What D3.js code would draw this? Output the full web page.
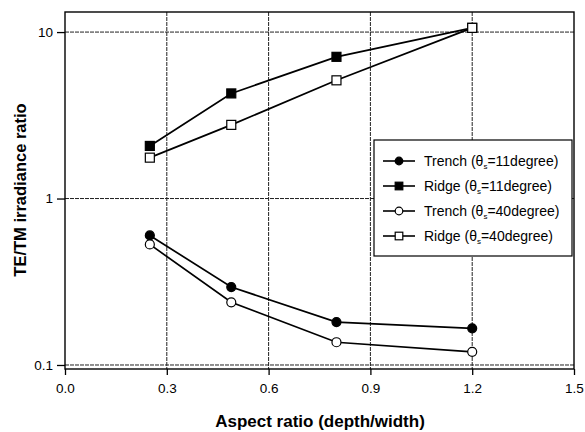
<!DOCTYPE html>
<html>
<head>
<meta charset="utf-8">
<script src="https://cdn.jsdelivr.net/npm/d3@7"></script>
<style>
  body { margin: 0; background: #fff; }
  text { font-family: Arial, "Liberation Sans", sans-serif; }
</style>
</head>
<body>
<script>
// data
let aspect = [0.25, 0.49, 0.8, 1.2]
let trench11 = [0.60, 0.294, 0.181, 0.166]
let ridge11 = [2.07, 4.28, 7.1, 10.6]
let trench40 = [0.53, 0.238, 0.137, 0.12]
let ridge40 = [1.76, 2.77, 5.13, 10.6]
let xTicks = [0, 0.3, 0.6, 0.9, 1.2, 1.5]
let yTicks = [0.1, 1, 10]

let series = [
    { name: "Trench", angle: "11", values: trench11, shape: "circle", fill: "#000" },
    { name: "Ridge", angle: "11", values: ridge11, shape: "square", fill: "#000" },
    { name: "Trench", angle: "40", values: trench40, shape: "circle", fill: "#fff" },
    { name: "Ridge", angle: "40", values: ridge40, shape: "square", fill: "#fff" }
]

let W = 585, H = 432
let pLeft = 65, pRight = 574, pTop = 12, pBottom = 369

let svg = d3.select("body").append("svg")
    .attr("width", W)
    .attr("height", H)

let x = d3.scaleLinear().domain([0, 1.5]).range([pLeft, pRight])
let y = d3.scaleLog().domain([0.0946, 13.2]).range([pBottom, pTop])

// grid
svg.append("g").selectAll("line")
    .data(xTicks.filter(d => d > 0 && d < 1.5))
    .join("line")
    .attr("x1", d => x(d)).attr("x2", d => x(d))
    .attr("y1", pTop).attr("y2", pBottom)
    .attr("stroke", "#222")
    .attr("stroke-width", 1)
    .attr("stroke-dasharray", "4,1")
svg.append("g").selectAll("line")
    .data(yTicks)
    .join("line")
    .attr("x1", pLeft).attr("x2", pRight)
    .attr("y1", d => y(d)).attr("y2", d => y(d))
    .attr("stroke", "#222")
    .attr("stroke-width", 1)
    .attr("stroke-dasharray", "4,1")

// frame
svg.append("rect")
    .attr("x", pLeft).attr("y", pTop)
    .attr("width", pRight - pLeft).attr("height", pBottom - pTop)
    .attr("fill", "none")
    .attr("stroke", "#000")
    .attr("stroke-width", 1.4)

// axes
let xAxis = svg.append("g")
    .attr("transform", `translate(0,${pBottom})`)
    .call(d3.axisBottom(x).tickValues(xTicks).tickFormat(d3.format(".1f")).tickSize(6).tickSizeOuter(0))
xAxis.select(".domain").remove()
xAxis.selectAll("line").attr("stroke-width", 1.3)
xAxis.selectAll("text").attr("font-size", 13.5).attr("dy", "1.1em").attr("fill", "#000")

let yAxis = svg.append("g")
    .attr("transform", `translate(${pLeft},0)`)
    .call(d3.axisLeft(y).tickValues(yTicks).tickFormat(d3.format("~g")).tickSize(8).tickSizeOuter(0))
yAxis.select(".domain").remove()
yAxis.selectAll("line").attr("stroke-width", 1.3)
yAxis.selectAll("text").attr("font-size", 13.5).attr("fill", "#000").attr("x", -12)

// axis titles
svg.append("text")
    .attr("x", 320).attr("y", 427)
    .attr("text-anchor", "middle")
    .attr("font-size", 17)
    .attr("font-weight", "bold")
    .text("Aspect ratio (depth/width)")
svg.append("text")
    .attr("transform", "translate(26,190) rotate(-90)")
    .attr("text-anchor", "middle")
    .attr("font-size", 16.5)
    .attr("font-weight", "bold")
    .text("TE/TM irradiance ratio")

// lines and markers
let line = d3.line().x((d, i) => x(aspect[i])).y(d => y(d))

function marker(g, s, cx, cy, r) {
    if (s.shape == "circle") {
        g.append("circle")
            .attr("cx", cx).attr("cy", cy).attr("r", r)
            .attr("fill", s.fill).attr("stroke", "#000").attr("stroke-width", 1.2)
    } else {
        g.append("rect")
            .attr("x", cx - r).attr("y", cy - r)
            .attr("width", 2 * r).attr("height", 2 * r)
            .attr("fill", s.fill).attr("stroke", "#000").attr("stroke-width", 1.2)
    }
}

series.forEach(s => {
    let g = svg.append("g")
    g.append("path")
        .attr("d", line(s.values))
        .attr("fill", "none")
        .attr("stroke", "#000")
        .attr("stroke-width", 1.7)
    s.values.forEach((v, i) => marker(g, s, x(aspect[i]), y(v), 4.5))
})

// legend
let lg = svg.append("g")
lg.append("rect")
    .attr("x", 374).attr("y", 140)
    .attr("width", 198).attr("height", 116)
    .attr("fill", "#fff")
    .attr("stroke", "#000")
    .attr("stroke-width", 1.2)

series.forEach((s, i) => {
    let yy = 161 + i * 25
    lg.append("line")
        .attr("x1", 383).attr("x2", 415)
        .attr("y1", yy).attr("y2", yy)
        .attr("stroke", "#000").attr("stroke-width", 1.6)
    marker(lg, s, 399, yy, 3.8)
    let t = lg.append("text")
        .attr("x", 424).attr("y", yy + 5)
        .attr("font-size", 14)
    t.append("tspan").text(s.name + " (\u03b8")
    t.append("tspan").attr("font-size", 8).attr("dy", 3).text("s")
    t.append("tspan").attr("dy", -3).text("=" + s.angle + "degree)")
})
</script>
</body>
</html>
